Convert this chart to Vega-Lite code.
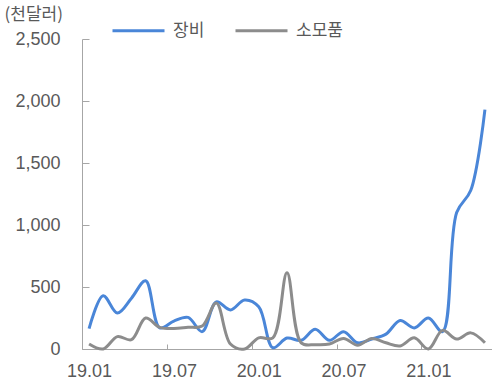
{
  "$schema": "https://vega.github.io/schema/vega-lite/v6.json",
  "width": 410,
  "height": 310,
  "autosize": {"type": "none"},
  "padding": {"left": 82, "top": 39, "right": 0, "bottom": 34},
  "config": {
    "view": {"stroke": null},
    "font": "Liberation Sans",
    "axis": {"grid": false, "domainColor": "#a6a6a6", "tickColor": "#a6a6a6", "labelColor": "#595959", "labelFontSize": 18}
  },
  "data": {
    "values": [
      {"month": "19.01", "series": "장비", "value": 165},
      {"month": "19.02", "series": "장비", "value": 430},
      {"month": "19.03", "series": "장비", "value": 290},
      {"month": "19.04", "series": "장비", "value": 410},
      {"month": "19.05", "series": "장비", "value": 550},
      {"month": "19.06", "series": "장비", "value": 170},
      {"month": "19.07", "series": "장비", "value": 225},
      {"month": "19.08", "series": "장비", "value": 255},
      {"month": "19.09", "series": "장비", "value": 140},
      {"month": "19.10", "series": "장비", "value": 380},
      {"month": "19.11", "series": "장비", "value": 315},
      {"month": "19.12", "series": "장비", "value": 395},
      {"month": "20.01", "series": "장비", "value": 340},
      {"month": "20.02", "series": "장비", "value": 10},
      {"month": "20.03", "series": "장비", "value": 88},
      {"month": "20.04", "series": "장비", "value": 70},
      {"month": "20.05", "series": "장비", "value": 160},
      {"month": "20.06", "series": "장비", "value": 70},
      {"month": "20.07", "series": "장비", "value": 140},
      {"month": "20.08", "series": "장비", "value": 50},
      {"month": "20.09", "series": "장비", "value": 80},
      {"month": "20.10", "series": "장비", "value": 120},
      {"month": "20.11", "series": "장비", "value": 230},
      {"month": "20.12", "series": "장비", "value": 170},
      {"month": "21.01", "series": "장비", "value": 250},
      {"month": "21.02", "series": "장비", "value": 140},
      {"month": "21.03", "series": "장비", "value": 1100},
      {"month": "21.04", "series": "장비", "value": 1280},
      {"month": "21.05", "series": "장비", "value": 1930},
      {"month": "19.01", "series": "소모품", "value": 40},
      {"month": "19.02", "series": "소모품", "value": 0},
      {"month": "19.03", "series": "소모품", "value": 100},
      {"month": "19.04", "series": "소모품", "value": 75},
      {"month": "19.05", "series": "소모품", "value": 250},
      {"month": "19.06", "series": "소모품", "value": 175},
      {"month": "19.07", "series": "소모품", "value": 165},
      {"month": "19.08", "series": "소모품", "value": 175},
      {"month": "19.09", "series": "소모품", "value": 185},
      {"month": "19.10", "series": "소모품", "value": 370},
      {"month": "19.11", "series": "소모품", "value": 40},
      {"month": "19.12", "series": "소모품", "value": 0},
      {"month": "20.01", "series": "소모품", "value": 90},
      {"month": "20.02", "series": "소모품", "value": 90},
      {"month": "20.03", "series": "소모품", "value": 615},
      {"month": "20.04", "series": "소모품", "value": 50},
      {"month": "20.05", "series": "소모품", "value": 35},
      {"month": "20.06", "series": "소모품", "value": 40},
      {"month": "20.07", "series": "소모품", "value": 85},
      {"month": "20.08", "series": "소모품", "value": 30},
      {"month": "20.09", "series": "소모품", "value": 85},
      {"month": "20.10", "series": "소모품", "value": 50},
      {"month": "20.11", "series": "소모품", "value": 25},
      {"month": "20.12", "series": "소모품", "value": 90},
      {"month": "21.01", "series": "소모품", "value": 0},
      {"month": "21.02", "series": "소모품", "value": 150},
      {"month": "21.03", "series": "소모품", "value": 80},
      {"month": "21.04", "series": "소모품", "value": 130},
      {"month": "21.05", "series": "소모품", "value": 50}
    ]
  },
  "mark": {"type": "line", "interpolate": "catmull-rom", "strokeWidth": 3, "clip": false},
  "encoding": {
    "x": {
      "field": "month",
      "type": "ordinal",
      "bandPosition": 0.5,
      "scale": {"type": "band", "paddingInner": 0, "paddingOuter": 0},
      "axis": {
        "title": null,
        "values": ["19.01", "19.07", "20.01", "20.07", "21.01"],
        "tickOffset": -7,
        "labelOffset": 7,
        "labelAngle": 0,
        "tickSize": -5,
        "labelPadding": 18
      }
    },
    "y": {
      "field": "value",
      "type": "quantitative",
      "scale": {"domain": [0, 2500], "nice": false},
      "axis": {
        "values": [0, 500, 1000, 1500, 2000, 2500],
        "format": ",.0f",
        "tickSize": -7,
        "labelPadding": 29,
        "title": "(천달러)",
        "titleAngle": 0,
        "titleAlign": "left",
        "titleBaseline": "top",
        "titleX": -78,
        "titleY": -33,
        "titleFont": "Noto Sans CJK KR",
        "titleFontSize": 17,
        "titleFontWeight": "normal",
        "titleColor": "#595959"
      }
    },
    "color": {
      "field": "series",
      "type": "nominal",
      "sort": ["장비", "소모품"],
      "scale": {"domain": ["장비", "소모품"], "range": ["#4a86d8", "#8c8c8c"]},
      "legend": {
        "title": null,
        "orient": "none",
        "direction": "horizontal",
        "legendX": 29,
        "legendY": -36,
        "symbolType": "stroke",
        "symbolSize": 2704,
        "symbolStrokeWidth": 3,
        "labelFont": "Noto Sans CJK KR",
        "labelFontSize": 17,
        "labelColor": "#595959",
        "labelOffset": 7,
        "columnPadding": 24
      }
    }
  }
}
